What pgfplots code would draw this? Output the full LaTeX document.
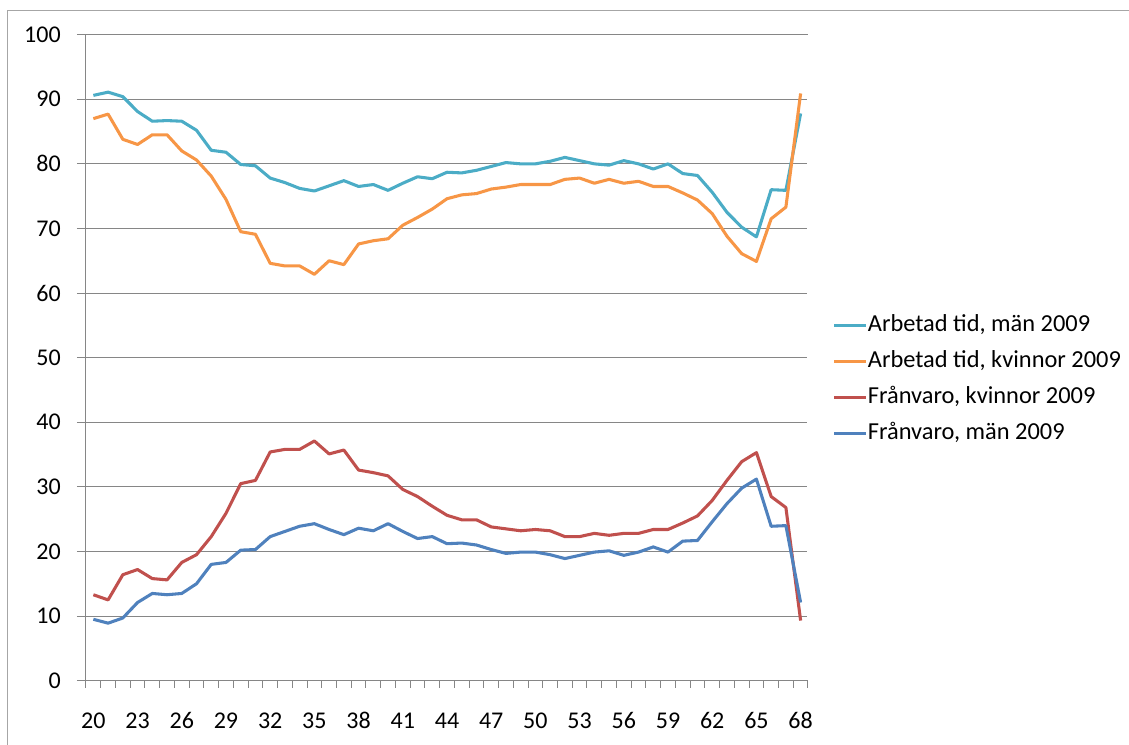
\documentclass[border=0pt]{standalone}
\usepackage{pgfplots}
\usepackage{pgfplotstable}
\pgfplotsset{compat=1.18}
\usepackage{fontspec}
\setmainfont{Carlito}
\definecolor{cteal}{HTML}{4BACC6}
\definecolor{corange}{HTML}{F79646}
\definecolor{cred}{HTML}{C0504D}
\definecolor{cblue}{HTML}{4F81BD}
\definecolor{gridgray}{HTML}{868686}
\definecolor{framegray}{HTML}{A6A6A6}
\pgfplotstableread{
age mA kA kF mF
20 90.6 87.0 13.3 9.5
21 91.1 87.7 12.5 8.9
22 90.4 83.8 16.4 9.7
23 88.1 83.0 17.2 12.1
24 86.6 84.5 15.8 13.5
25 86.7 84.5 15.6 13.3
26 86.6 82.0 18.3 13.5
27 85.2 80.6 19.5 15.0
28 82.1 78.1 22.3 18.0
29 81.8 74.5 25.9 18.3
30 79.9 69.5 30.5 20.2
31 79.7 69.1 31.0 20.3
32 77.8 64.6 35.4 22.3
33 77.1 64.2 35.8 23.1
34 76.2 64.2 35.8 23.9
35 75.8 62.9 37.1 24.3
36 76.6 65.0 35.1 23.4
37 77.4 64.4 35.7 22.6
38 76.5 67.6 32.6 23.6
39 76.8 68.1 32.2 23.2
40 75.9 68.4 31.7 24.3
41 77.0 70.5 29.6 23.1
42 78.0 71.7 28.5 22.0
43 77.7 73.0 27.0 22.3
44 78.7 74.6 25.6 21.2
45 78.6 75.2 24.9 21.3
46 79.0 75.4 24.9 21.0
47 79.6 76.1 23.8 20.3
48 80.2 76.4 23.5 19.7
49 80.0 76.8 23.2 19.9
50 80.0 76.8 23.4 19.9
51 80.4 76.8 23.2 19.5
52 81.0 77.6 22.3 18.9
53 80.5 77.8 22.3 19.4
54 80.0 77.0 22.8 19.9
55 79.8 77.6 22.5 20.1
56 80.5 77.0 22.8 19.4
57 80.0 77.3 22.8 19.9
58 79.2 76.5 23.4 20.7
59 80.0 76.5 23.4 19.9
60 78.5 75.5 24.4 21.6
61 78.2 74.4 25.5 21.7
62 75.6 72.3 27.9 24.6
63 72.5 68.8 31.0 27.4
64 70.2 66.1 33.9 29.8
65 68.7 64.9 35.3 31.2
66 76.0 71.5 28.5 23.9
67 75.9 73.3 26.8 24.0
68 87.8 90.9 9.3 12.1
}\datatable
\begin{document}
\begin{tikzpicture}
\useasboundingbox (-64.5pt,-48.2pt) rectangle (782.25pt,510.5pt);
\draw[framegray, line width=0.75pt] (-58.9pt,-48.2pt) -- (-58.9pt,502.3pt) -- (782.25pt,502.3pt);
\begin{axis}[
  at={(0pt,0pt)}, anchor=south west,
  scale only axis, clip=false,
  width=541.5pt, height=484.5pt,
  xmin=19.5, xmax=68.5,
  ymin=0, ymax=100,
  axis line style={draw=none},
  xtick pos=bottom, ytick pos=left,
  ymajorgrids,
  grid style={draw=gridgray, line width=0.75pt},
  ytick={0,10,...,100},
  xtick={20,23,...,68},
  extra x ticks={19.5,20.5,...,68.5},
  extra x tick labels={},
  extra x tick style={grid=none, major tick length=5.25pt,
    major x tick style={draw=gridgray, line width=0.75pt}},
  tick align=outside,
  major tick length=6.75pt,
  major x tick style={draw=none},
  major y tick style={draw=gridgray, line width=0.75pt},
  /pgf/number format/assume math mode=true,
  tick label style={font=\fontsize{18}{21.6}\selectfont, text=black},
  yticklabel style={inner sep=0pt, xshift=-12pt},
  xticklabel style={inner sep=0pt, yshift=-17pt},
  legend cell align=left,
  legend style={at={(1.034,0.466)}, anchor=west, draw=none, fill=none,
    font=\fontsize{18.3}{22}\selectfont, row sep=10pt, inner sep=0pt,
    nodes={inner sep=0pt, text height=13pt, text depth=4pt}},
  legend image code/.code={\draw[#1] (0pt,0pt) -- (24pt,0pt);},
  every axis plot/.append style={line width=2.3pt, line join=round},
]
\draw[gridgray, line width=0.75pt] (axis cs:19.5,100) -- (axis cs:19.5,0) -- (axis cs:68.5,0);
\addplot[cteal] table[x=age, y=mA] {\datatable};
\addlegendentry{Arbetad tid, män 2009}
\addplot[corange] table[x=age, y=kA] {\datatable};
\addlegendentry{Arbetad tid, kvinnor 2009}
\addplot[cred] table[x=age, y=kF] {\datatable};
\addlegendentry{Frånvaro, kvinnor 2009}
\addplot[cblue] table[x=age, y=mF] {\datatable};
\addlegendentry{Frånvaro, män 2009}
\draw[white, line width=1.6pt] (axis cs:68.5,0.4) -- (axis cs:68.5,99.75);
\end{axis}
\end{tikzpicture}
\end{document}
